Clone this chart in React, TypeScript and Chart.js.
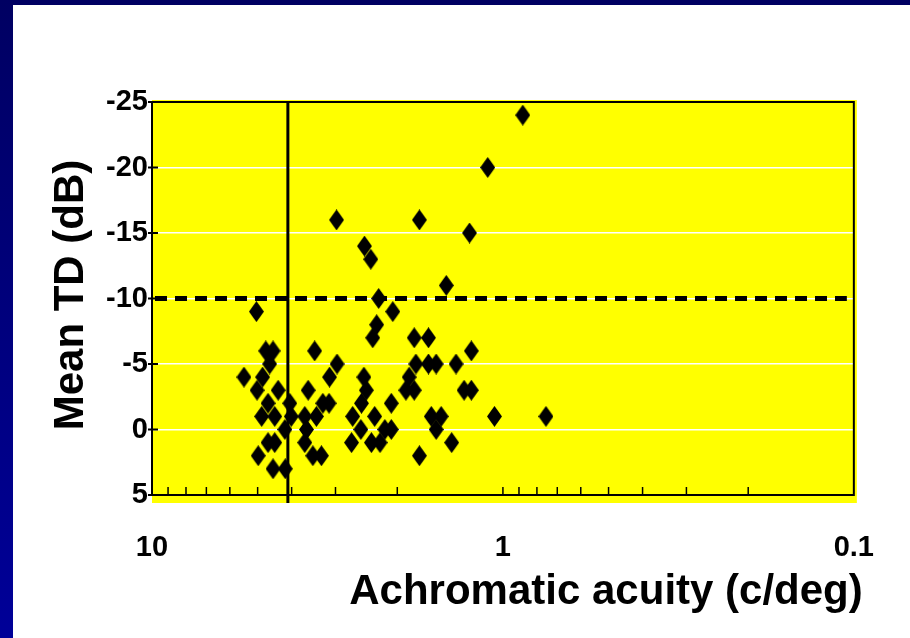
import React, { useEffect, useRef } from "react";
import { Chart, registerables } from "chart.js";

Chart.register(...registerables);

// Data
const acuity = [
  2.98, 2.48, 2.38, 2.26, 2.06, 5.04, 2.29, 2.35, 1.79, 1.63, 1.73,
  4.74, 4.52, 4.62, 3.44, 2.97, 5.47, 4.84, 5.02, 4.37, 3.12, 2.49, 2.45, 3.59,
  4.67, 4.05, 3.26, 3.13, 2.53, 2.08,
  4.87, 4.47, 4.01, 3.67, 3.4, 2.68, 2.32,
  4.18, 3.63, 2.54, 2.17, 2.08,
  4.67, 4.47, 3.67, 2.7, 2.37, 2.24,
  4.98, 3.48, 3.29, 1.73,
  4.52, 4.17,
  0.878, 1.105, 1.245, 1.45, 1.23, 1.77, 1.63, 1.55, 1.36, 1.85, 1.89, 1.79, 1.29, 1.23,
  1.6, 1.5, 1.55, 1.057, 0.754, 1.4,
];
const meanTD = [
  -16, -14, -13, -10, -9, -9, -8, -7, -7, -7, -16,
  -6, -6, -5, -6, -5, -4, -4, -3, -3, -4, -4, -3, -3,
  -2, -2, -2, -2, -2, -2,
  -1, -1, -1, -1, -1, -1, -1,
  0, 0, 0, 0, 0,
  1, 1, 1, 1, 1, 1,
  2, 2, 2, 2,
  3, 3,
  -24, -20, -15, -11, -6, -5, -5, -5, -5, -4, -3, -3, -3, -3,
  -1, -1, 0, -1, -1, 1,
];
const xTickValues = [10, 1, 0.1];
const xMinorTicks = [9, 8, 7, 6, 5, 4, 3, 2, 1, 0.9, 0.8, 0.7, 0.6, 0.5, 0.4, 0.3, 0.2];
const yTickValues = [-25, -20, -15, -10, -5, 0, 5];
const cutoffAcuity = 4.1;
const cutoffTD = -10;
const xTitle = "Achromatic acuity (c/deg)";
const yTitle = "Mean TD (dB)";

const FONT = "'Liberation Sans', Arial, Helvetica, sans-serif";

function makeDiamond(): HTMLCanvasElement {
  const c = document.createElement("canvas");
  c.width = 15;
  c.height = 21;
  const g = c.getContext("2d")!;
  g.fillStyle = "#000000";
  g.beginPath();
  g.moveTo(7.5, 0);
  g.lineTo(15, 10.5);
  g.lineTo(7.5, 21);
  g.lineTo(0, 10.5);
  g.closePath();
  g.fill();
  return c;
}

const decoPlugin = {
  id: "deco",
  beforeDraw(chart: any) {
    const { ctx, chartArea: a } = chart;
    ctx.save();
    ctx.fillStyle = "#ffff00";
    ctx.fillRect(a.left, a.top - 2, a.right - a.left + 3, a.bottom - a.top + 10);
    ctx.restore();
  },
  beforeDatasetsDraw(chart: any) {
    const { ctx, chartArea: a, scales } = chart;
    const xs = scales.x;
    const ys = scales.y;
    ctx.save();
    ctx.strokeStyle = "#000000";
    // minor ticks on x axis (inward)
    ctx.lineWidth = 1.5;
    for (const v of xMinorTicks) {
      const px = xs.getPixelForValue(v);
      ctx.beginPath();
      ctx.moveTo(px, a.bottom);
      ctx.lineTo(px, a.bottom - 8);
      ctx.stroke();
    }
    // y ticks crossing the axis
    ctx.lineWidth = 2;
    for (const v of yTickValues) {
      const py = ys.getPixelForValue(v);
      ctx.beginPath();
      ctx.moveTo(a.left - 4, py);
      ctx.lineTo(a.left + 6, py);
      ctx.stroke();
    }
    // frame
    ctx.lineWidth = 2;
    ctx.strokeRect(a.left, a.top, a.right - a.left, a.bottom - a.top);
    // vertical cutoff line
    const vx = xs.getPixelForValue(cutoffAcuity);
    ctx.lineWidth = 3;
    ctx.beginPath();
    ctx.moveTo(vx, a.top);
    ctx.lineTo(vx, a.bottom + 8);
    ctx.stroke();
    // dashed horizontal line
    const hy = ys.getPixelForValue(cutoffTD);
    ctx.lineWidth = 5;
    ctx.setLineDash([12, 8]);
    ctx.beginPath();
    ctx.moveTo(a.left + 3, hy);
    ctx.lineTo(a.right - 7, hy);
    ctx.stroke();
    ctx.restore();
  },
  afterDraw(chart: any) {
    const { ctx, chartArea: a } = chart;
    ctx.save();
    ctx.fillStyle = "#000000";
    ctx.font = `bold 42px ${FONT}`;
    ctx.textBaseline = "alphabetic";
    ctx.textAlign = "center";
    ctx.fillText(xTitle, a.left + 454, a.bottom + 109);
    ctx.translate(a.left - 69, a.top + 193);
    ctx.rotate(-Math.PI / 2);
    ctx.fillText(yTitle, 0, 0);
    ctx.restore();
  },
};

export default function App() {
  const ref = useRef<HTMLCanvasElement | null>(null);

  useEffect(() => {
    if (!ref.current) return;
    const diamond = makeDiamond();
    const points = acuity.map((x, i) => ({ x, y: meanTD[i] }));
    const chart = new Chart(ref.current, {
      type: "scatter",
      data: {
        datasets: [
          {
            data: points,
            pointStyle: diamond as any,
            pointRadius: 8,
            pointHoverRadius: 8,
            backgroundColor: "#000000",
            borderColor: "#000000",
          },
        ],
      },
      plugins: [decoPlugin],
      options: {
        animation: false,
        responsive: false,
        devicePixelRatio: 1,
        events: [],
        layout: { padding: { top: 102, right: 55, left: 0, bottom: 0 } },
        plugins: {
          legend: { display: false },
          tooltip: { enabled: false },
          title: { display: false },
        },
        scales: {
          x: {
            type: "logarithmic",
            min: 0.1,
            max: 10,
            reverse: true,
            afterFit: (s: any) => {
              s.height = 143;
            },
            afterBuildTicks: (s: any) => {
              s.ticks = xTickValues.map((v) => ({ value: v }));
            },
            grid: { display: false, drawTicks: false },
            border: { display: false },
            ticks: {
              autoSkip: false,
              maxRotation: 0,
              padding: 36,
              color: "#000000",
              font: { family: FONT, size: 29, weight: "bold" },
              callback: (v: any) => String(v),
            },
          },
          y: {
            type: "linear",
            min: -25,
            max: 5,
            reverse: true,
            afterFit: (s: any) => {
              s.width = 152;
            },
            afterBuildTicks: (s: any) => {
              s.ticks = yTickValues.map((v) => ({ value: v }));
            },
            grid: { color: "#ffffff", lineWidth: 1.5, drawTicks: false },
            border: { display: false },
            ticks: {
              autoSkip: false,
              padding: 4,
              color: "#000000",
              font: { family: FONT, size: 29, weight: "bold" },
              callback: (v: any) => String(v),
            },
          },
        },
      },
    });
    return () => chart.destroy();
  }, []);

  return (
    <div
      style={{
        position: "fixed",
        left: 0,
        top: 0,
        width: 910,
        height: 638,
        background: "linear-gradient(to bottom, #000062 0%, #000098 100%)",
        overflow: "hidden",
      }}
    >
      <div
        style={{
          position: "absolute",
          left: 13,
          top: 5,
          right: 0,
          bottom: 0,
          background: "#ffffff",
        }}
      />
      <canvas
        ref={ref}
        width={910}
        height={638}
        style={{ position: "absolute", left: 0, top: 0, width: 910, height: 638 }}
      />
    </div>
  );
}
